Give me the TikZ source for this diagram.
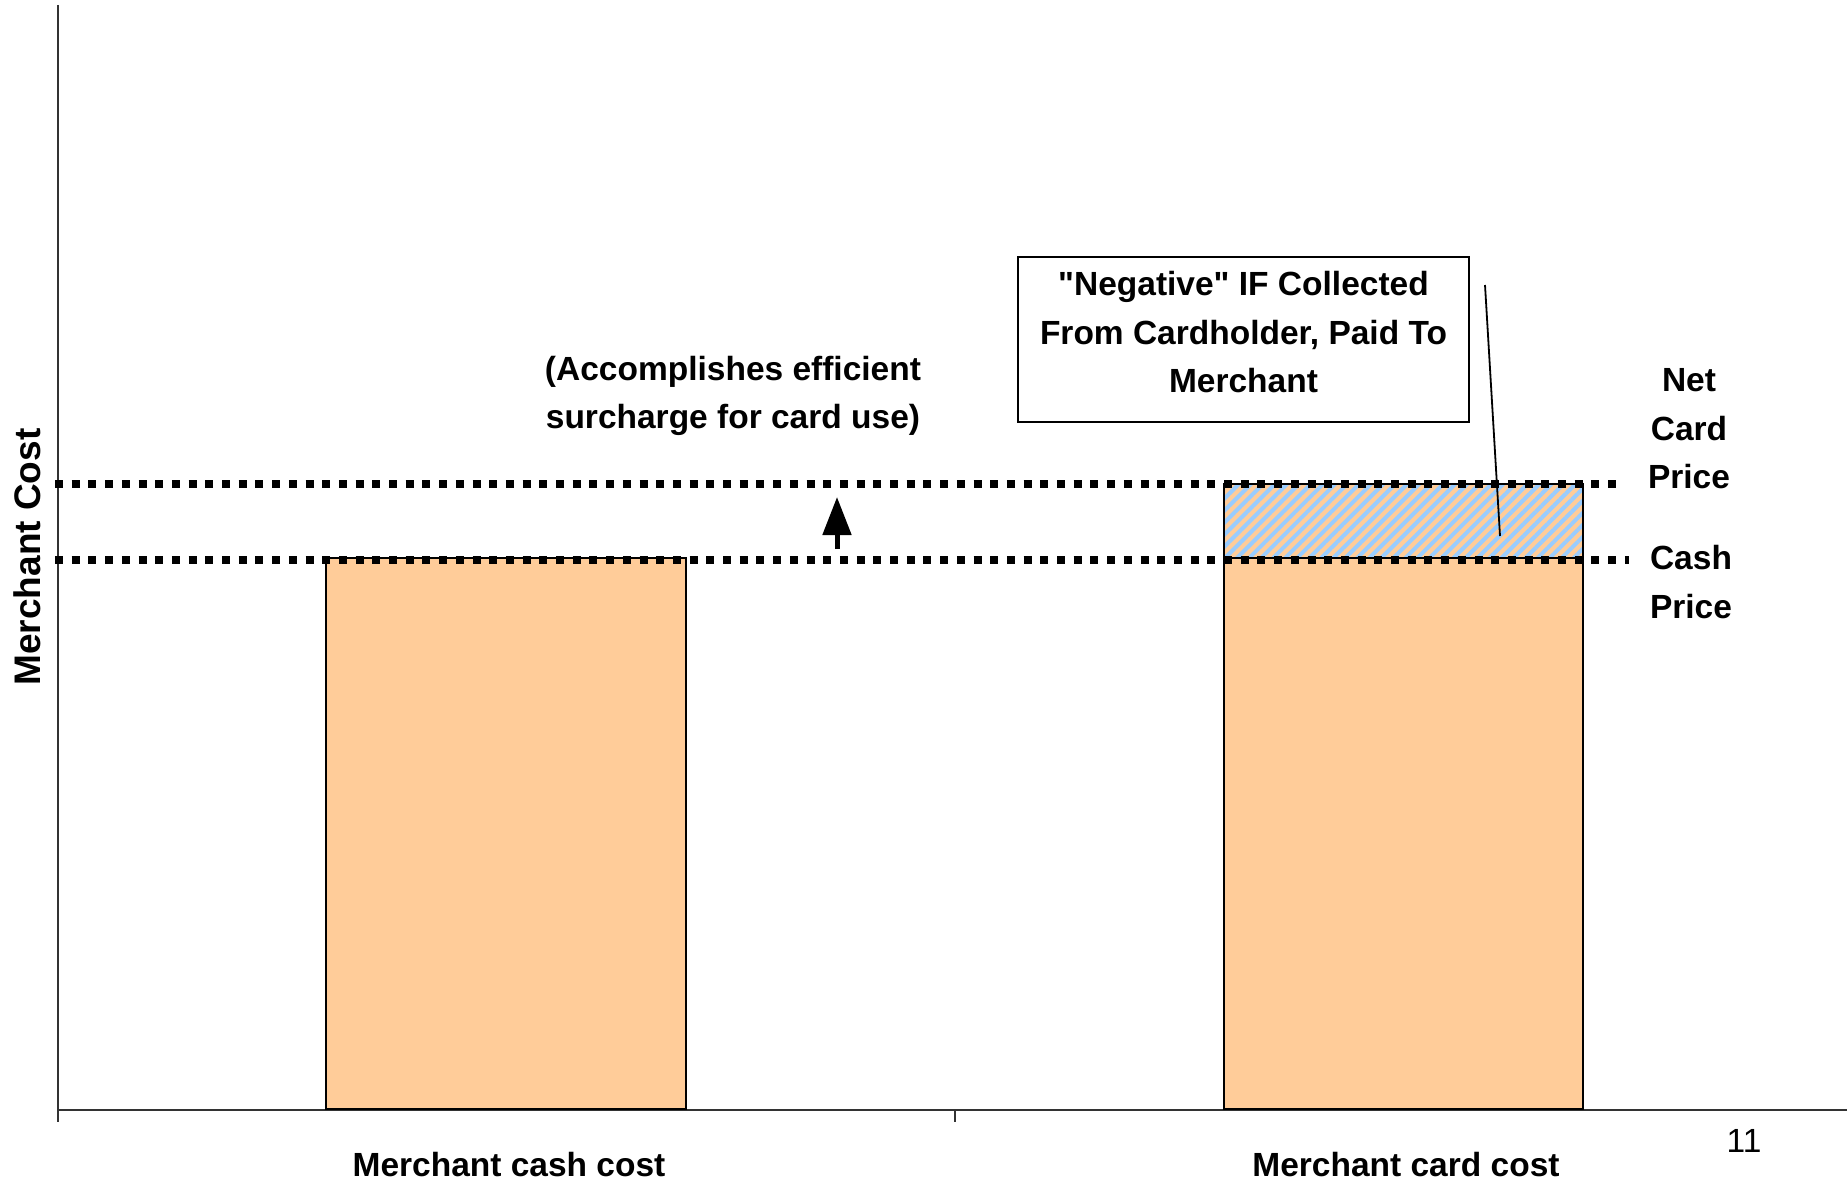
\documentclass[tikz,border=0pt]{standalone}
\usepackage{fontspec}
\setmainfont{Liberation Sans}[Ligatures=TeXOff]
\usetikzlibrary{arrows.meta,patterns.meta}

\definecolor{barorange}{HTML}{FFCC99}
\definecolor{hatchblue}{HTML}{99CCFF}

\tikzset{
  bar/.style={draw=black, line width=2pt, fill=barorange},
  hatchbar/.style={draw=black, line width=2pt,
    pattern={Lines[angle=45, distance=8.5pt, line width=4pt]},
    pattern color=hatchblue},
  pricedots/.style={line width=8pt, dash pattern=on 8pt off 8.7pt},
  axisline/.style={draw=black!80, line width=1.6pt},
  lbl/.style={font=\fontsize{33.5}{48.5}\selectfont\bfseries, align=center, inner sep=0pt},
  notebox/.style={draw=black, line width=1.6pt, inner sep=0pt,
    minimum width=451pt, minimum height=165pt}
}

\begin{document}
\begin{tikzpicture}[x=1pt, y=-1pt]
  \useasboundingbox (0,0) rectangle (1847,1182);

  % axes
  \draw[axisline] (58,5) -- (58,1122);
  \draw[axisline] (58,1110) -- (1847,1110);
  \draw[axisline] (955,1110) -- (955,1122);

  % cash bar
  \draw[bar] (326,558) rectangle (686,1109);

  % card bar: cash part plus hatched interchange part on top
  \draw[bar] (1224,558) rectangle (1583,1109);
  \fill[barorange] (1224,484) rectangle (1583,558);
  \draw[hatchbar] (1224,484) rectangle (1583,558);

  % price levels
  \draw[pricedots] (55,484) -- (1620,484);
  \draw[pricedots] (55,560) -- (1629,560);

  % surcharge arrow
  \coordinate (arrowbase) at (837,549);
  \coordinate (arrowtip) at (837,497);
  \draw[line width=5pt, -{Triangle[length=38pt, width=28pt]}] (arrowbase) -- (arrowtip);

  % callout box with its text and pointer
  \node[notebox] (note) at (1243.5,339.5) {};
  \node[lbl] (notetext) at (1243.5,332.5)
    {"Negative" IF Collected\\From Cardholder, Paid To\\Merchant};
  \coordinate (pointerstart) at (1485,285);
  \coordinate (pointerend) at (1500,536);
  \draw[line width=1.8pt] (pointerstart) -- (pointerend);

  % labels
  \node[lbl] (surcharge) at (733,396)
    {(Accomplishes efficient\\surcharge for card use)};
  \node[lbl] (netcard) at (1689,429) {Net\\Card\\Price};
  \node[lbl] (cashprice) at (1691,582) {Cash\\Price};
  \node[lbl, font=\fontsize{37}{40}\selectfont\bfseries, rotate=90] (ylabel) at (27,557) {Merchant Cost};
  \node[lbl, anchor=base] (cashcost) at (509,1176) {Merchant cash cost};
  \node[lbl, anchor=base] (cardcost) at (1406,1176) {Merchant card cost};
  \node[inner sep=0pt, anchor=base, font=\fontsize{33.5}{40}\selectfont] (pagenum) at (1744,1152) {11};
\end{tikzpicture}
\end{document}
